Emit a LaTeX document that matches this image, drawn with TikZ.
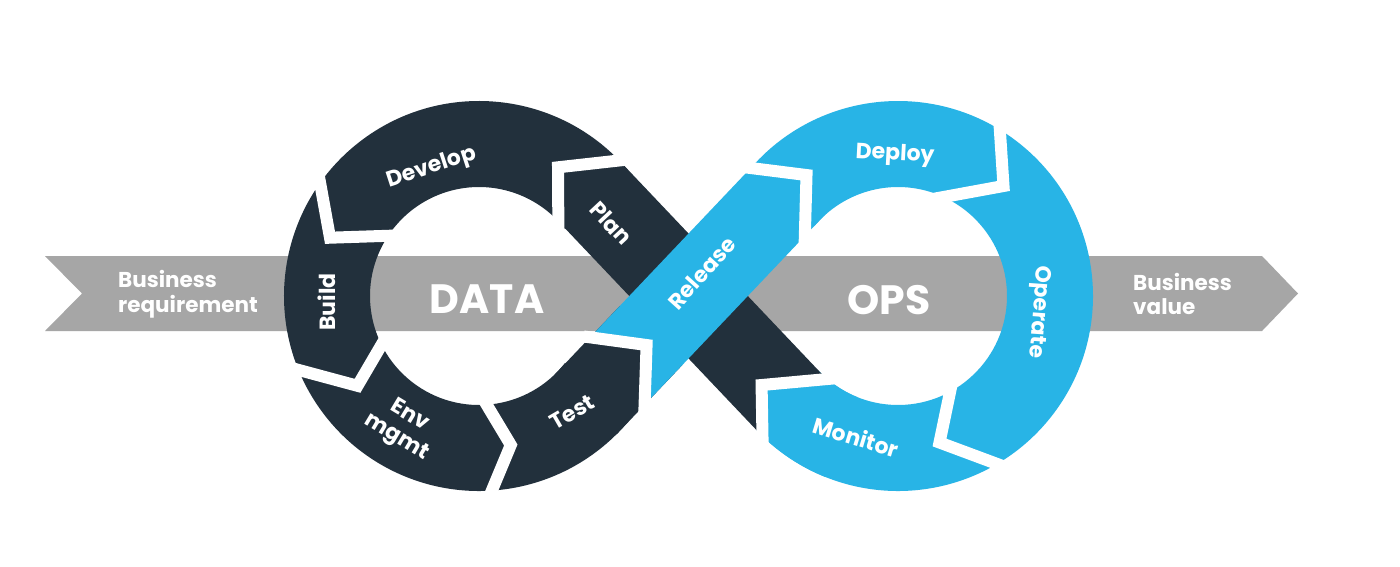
\documentclass[tikz,border=0pt]{standalone}
\usepackage{fontspec}
\setmainfont{Poppins}
\usetikzlibrary{calc}
\definecolor{dk}{HTML}{22303C}
\definecolor{bl}{HTML}{28B4E6}
\definecolor{gr}{HTML}{A6A6A6}
\begin{document}
\begin{tikzpicture}[x=1pt,y=1pt,
  lbl/.style={text=white,font=\bfseries\fontsize{22}{25}\selectfont,inner sep=0pt,align=center},
  big/.style={text=white,font=\bfseries\fontsize{41}{45}\selectfont,inner sep=0pt},
  biz/.style={text=white,font=\bfseries\fontsize{21.5}{24.5}\selectfont,inner sep=0pt,align=left},
  gap/.style={white,line width=12pt,line join=miter,miter limit=10}]
\useasboundingbox (0,0) rectangle (1400,-566);
\fill[white] (0,0) rectangle (1400,-566);
% gray arrow
\fill[gr] (45,-256) -- (1262,-256) -- (1298,-293.5) -- (1262,-331) -- (45,-331) -- (82,-293.5) -- cycle;
\coordinate (C1) at (479,-296);
\coordinate (C2) at (898,-296);
\coordinate (T1) at ($(C1)+(43.5:152pt)$);
\coordinate (T3) at ($(C1)+(-43.5:152pt)$);
% left ring
\fill[dk] ($(C1)+(38:195pt)$) arc[start angle=38,end angle=322,radius=195pt]
  -- ($(C1)+(322:109pt)$) arc[start angle=322,end angle=38,radius=109pt] -- cycle;
% right ring
\fill[bl] ($(C2)+(140:195pt)$) arc[start angle=140,end angle=-136.5,radius=195pt]
  -- ($(C2)+(-136.5:109pt)$) arc[start angle=-136.5,end angle=140,radius=109pt] -- cycle;
% dark band
\begin{scope}[shift={(T1)},rotate=-46.5]
\fill[dk] (-5,-43) -- (300.4,-43) -- (300.4,43) -- (-5,43) -- cycle;
\coordinate (B8o) at (300,-45.7);
\coordinate (B8m) at (259.1,-8.3);
\coordinate (B8i) at (300.8,44.5);
\coordinate (B8oe) at (304.4,-49.8);
\coordinate (B8ie) at (307,52.4);
\end{scope}
% monitor tip
\fill[bl] (B8o) -- (B8m) -- (B8i) -- ($(C2)+(-128:109pt)$) arc[start angle=-128,end angle=-112,radius=109pt]
  -- ($(C2)+(-112:195pt)$) arc[start angle=-112,end angle=-133.1,radius=195pt] -- cycle;
% release band
\begin{scope}[shift={(T3)},rotate=46.5]
\fill[dk] (-5,-43) -- (90,-43) -- (90,43) -- (-5,43) -- cycle;
\fill[bl] (46.5,43) -- (79.8,-3.3) -- (35,-43) -- (300,-43) -- (320,0) -- (285,43) -- cycle;
\draw[gap] (42.7,48.2) -- (79.8,-3.3) -- (27.4,-49.8);
\draw[gap] (272.1,53.6) -- (313.2,-2.3) -- (260.1,-50);
\end{scope}
% gaps
\draw[gap] (628.9,-159.4) -- (558,-167.3) -- (558.4,-232.3);
\draw[gap] (318.6,-174.6) -- (330,-237.7) -- (399.5,-235.4);
\draw[gap] (288.1,-367.1) -- (357.5,-385.8) -- (385.8,-337.5);
\draw[gap] (490.2,-494.5) -- (510.8,-445) -- (481.7,-396.4);
\draw[gap] (999.4,-123) -- (1003.5,-186) -- (927.2,-200);
\draw[gap] (1004.8,-466.8) -- (939.5,-442.5) -- (952.5,-380.2);
\draw[gap] (B8oe) -- (B8m) -- (B8ie);
% labels
\node[lbl,rotate=18] (develop) at (432,-168) {Develop};
\node[lbl,rotate=90] (build) at (327,-302) {Build};
\node[lbl,rotate=-31] (env) at (403,-427) {Env\\mgmt};
\node[lbl,rotate=30] (test) at (572,-412) {Test};
\node[lbl,rotate=-47] (plan) at (611,-223) {Plan};
\node[lbl,rotate=48] (release) at (702,-273) {Release};
\node[lbl,rotate=-3] (deploy) at (895,-155) {Deploy};
\node[lbl,rotate=-94] (operate) at (1038,-312) {Operate};
\node[lbl,rotate=-17] (monitor) at (856,-437) {Monitor};
\node[big] (data) at (487,-299) {DATA};
\node[big] (ops) at (889,-300) {OPS};
\node[biz,anchor=west] (breq) at (118,-294) {Business\\requirement};
\node[biz,anchor=west] (bval) at (1133,-294) {Business\\value};
\end{tikzpicture}
\end{document}
